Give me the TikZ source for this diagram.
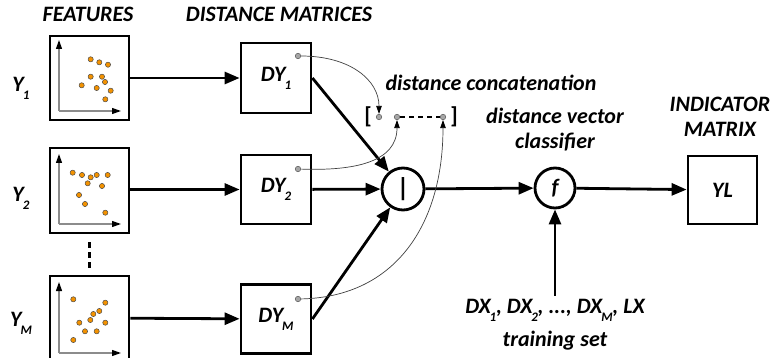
\documentclass[tikz,border=0pt]{standalone}
\usepackage{fontspec}
\setmainfont{Carlito}
\usetikzlibrary{arrows.meta}
\definecolor{dotorange}{RGB}{243,146,0}
\newcommand{\lowidx}[1]{\kern-1pt\raisebox{-8pt}{\fontsize{13}{13}\selectfont #1}}

\begin{document}
\begin{tikzpicture}[x=1pt,y=-1pt,
  every node/.style={font=\bfseries\itshape\fontsize{22}{25}\selectfont},
  box/.style={draw,line width=2.8pt,inner sep=0pt},
  ring/.style={draw,circle,line width=2.8pt,inner sep=0pt},
  port/.style={circle,draw=black!60,fill=black!35,line width=0.6pt,inner sep=0pt,minimum size=5.5pt},
  flow/.style={line width=2.8pt,-{Triangle[length=15pt,width=12pt]}},
  link/.style={line width=0.7pt,draw=black!75,-{Triangle[length=8pt,width=5.5pt,black]}},
  axis/.style={line width=1.2pt,draw=black!45,-{Triangle[length=9pt,width=6pt,black]}},
  spot/.style={fill=dotorange,draw=black!70,line width=0.5pt}]
  \useasboundingbox (0,0) rectangle (771,358);

  % headings
  \node (feat) at (88,14) {FEATURES};
  \node (dist) at (279,14) {DISTANCE MATRICES};
  \node (conc) at (491,83) {distance concatenation};
  \node[align=center] (clas) at (555,130) {distance vector\\classifier};
  \node[align=center] (indi) at (720,117) {INDICATOR\\MATRIX};

  % feature boxes
  \node[box,minimum width=79,minimum height=84] (y1) at (89.5,78) {};
  \node[box,minimum width=79,minimum height=85] (y2) at (89.5,190.5) {};
  \node[box,minimum width=79,minimum height=84] (ym) at (89.5,318) {};
  \node (ly1) at (21,88) {Y\lowidx{1}};
  \node (ly2) at (21,198) {Y\lowidx{2}};
  \node (lym) at (21,323) {Y\lowidx{M}};
  \draw[line width=2.8pt,dash pattern=on 6pt off 4pt] ([yshift=-8]y2.south) -- ([yshift=6]ym.north);

  \begin{scope}[shift={(50,36)}]
    \draw[axis] (9,75) -- (9,4);
    \draw[axis] (9,75) -- (71,75);
    \foreach \px/\py in {40.7/23.3,49.3/26.3,58/28.7,40.7/40.7,52/40.7,55/46,31.7/49.3,46.7/52,60.7/54.7,55.3/63.3}
      \draw[spot] (\px,\py) circle [radius=2.6];
  \end{scope}
  \begin{scope}[shift={(50,148)}]
    \draw[axis] (9,76) -- (9,6);
    \draw[axis] (9,76) -- (71,76);
    \foreach \px/\py in {22.7/24.7,32/27,40.7/29.3,46.7/27,57.7/27,37.7/35.3,52/38,29/47,35/56,55.3/64.7}
      \draw[spot] (\px,\py) circle [radius=2.6];
  \end{scope}
  \begin{scope}[shift={(50,276)}]
    \draw[axis] (9,77) -- (9,6);
    \draw[axis] (9,77) -- (71,77);
    \foreach \px/\py in {23.3/23.3,55.3/26.7,49.3/35,43.3/38,40.3/44,29.3/46.7,55.3/46.7,35/55.3,46.7/55.3,23.3/64}
      \draw[spot] (\px,\py) circle [radius=2.6];
  \end{scope}

  % distance matrices
  \node[box,minimum width=70,minimum height=70] (dy1) at (276,78) {DY\lowidx{1}};
  \node[box,minimum width=70,minimum height=69] (dy2) at (276,189.5) {DY\lowidx{2}};
  \node[box,minimum width=70,minimum height=69] (dym) at (276,319) {DY\lowidx{M}};
  \node[port] (p1) at (298,56) {};
  \node[port] (p2) at (298,169) {};
  \node[port] (pm) at (298,299) {};

  % concatenation vector
  \node[font=\bfseries\fontsize{23}{25}\selectfont] (lb) at (368,117) {[};
  \node[font=\bfseries\fontsize{23}{25}\selectfont] (rb) at (454,117) {]};
  \node[port] (c1) at (379,117) {};
  \node[port] (c2) at (397,117) {};
  \node[port] (c3) at (443,117) {};
  \draw[line width=2.4pt,dash pattern=on 5pt off 4pt] (c2) -- (c3);

  % combiner, classifier, output
  \node[ring,minimum size=42,font=\bfseries\upshape\fontsize{26}{26}\selectfont] (cat) at (403,189) {|};
  \node[ring,minimum size=40] (f) at (555,188) {f};
  \node[box,minimum width=69,minimum height=68] (yl) at (722.5,190) {YL};
  \node[align=center] (train) at (555,325) {DX\lowidx{1}, DX\lowidx{2}, ..., DX\lowidx{M}, LX\\[8pt]training set};

  \draw[flow] (y1) -- (dy1);
  \draw[flow] (y2.east |- dy2) -- (dy2);
  \draw[flow] (ym) -- (dym);
  \draw[flow] (dy1.east) -- (cat);
  \draw[flow] (dy2) -- (cat);
  \draw[flow] (dym.east) -- (cat);
  \draw[flow] (cat) -- (f);
  \draw[flow] (f) -- (yl);
  \draw[flow] ([yshift=0]train.north) -- (f);

  \draw[link] (p1) .. controls (350,56) and (379,80) .. (c1);
  \draw[link] (p2) .. controls (355,171) and (397,162) .. (c2);
  \draw[link] (pm) .. controls (395,297) and (443,225) .. (c3);
\end{tikzpicture}
\end{document}
